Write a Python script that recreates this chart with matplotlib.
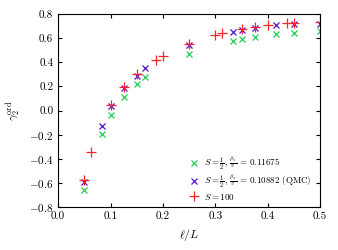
import matplotlib
matplotlib.use("Agg")
import matplotlib.pyplot as plt

plt.rcParams['font.family'] = 'serif'
plt.rcParams['font.serif'] = ['cmr10']
plt.rcParams['mathtext.fontset'] = 'cm'
plt.rcParams['axes.formatter.use_mathtext'] = True

# S = 1/2, rho_s/v = 0.11675
x_half = [0.05, 1/12, 0.1, 0.125, 0.15, 1/6, 0.25, 1/3, 0.35, 0.375, 5/12, 0.45, 0.5]
y_half = [-0.66, -0.195, -0.035, 0.11, 0.22, 0.28, 0.47, 0.58, 0.595, 0.61, 0.635, 0.645, 0.655]

# S = 1/2, QMC
x_qmc = [0.05, 1/12, 0.1, 0.125, 0.15, 1/6, 0.25, 1/3, 0.35, 0.375, 5/12, 0.45, 0.5]
y_qmc = [-0.59, -0.125, 0.035, 0.185, 0.29, 0.35, 0.545, 0.65, 0.665, 0.685, 0.705, 0.715, 0.72]

# S = 100
x_100 = [0.05, 0.0625, 0.1, 0.125, 0.15, 0.1875, 0.2, 0.25, 0.3, 0.3125, 0.35, 0.375, 0.4, 0.4375, 0.45, 0.5]
y_100 = [-0.575, -0.345, 0.045, 0.195, 0.30, 0.42, 0.455, 0.555, 0.625, 0.64, 0.675, 0.695, 0.71, 0.725, 0.725, 0.73]

fig, ax = plt.subplots(figsize=(3.38, 2.5), dpi=100)
fig.subplots_adjust(left=0.172, right=0.947, top=0.944, bottom=0.172)

ax.plot(x_half, y_half, 'x', color='#22cc55', ms=5, mew=0.9,
        label=r'$S=\frac{1}{2},\,\frac{\rho_s}{v}\,=\,0.11675$')
ax.plot(x_qmc, y_qmc, 'x', color='#5511cc', ms=5, mew=0.9,
        label=r'$S=\frac{1}{2},\,\frac{\rho_s}{v}\,=\,0.10882$ (QMC)')
ax.plot(x_100, y_100, '+', color='#ff2222', ms=7, mew=0.9,
        label=r'$S=100$')

ax.set_xlim(0, 0.5)
ax.set_ylim(-0.8, 0.8)
ax.set_xticks([0.0, 0.1, 0.2, 0.3, 0.4, 0.5])
ax.set_yticks([-0.8, -0.6, -0.4, -0.2, 0.0, 0.2, 0.4, 0.6, 0.8])
ax.set_xticklabels(['0.0', '0.1', '0.2', '0.3', '0.4', '0.5'])
ax.set_yticklabels([r'$-0.8$', r'$-0.6$', r'$-0.4$', r'$-0.2$', '0.0', '0.2', '0.4', '0.6', '0.8'])
ax.tick_params(direction='in', top=True, right=True, labelsize=8, length=3)
ax.set_xlabel(r'$\ell/L$', fontsize=8.5)
ax.set_ylabel(r'$\gamma_2^{\rm ord}$', fontsize=8.5)

ax.legend(loc='lower right', frameon=False, fontsize=6.5, handletextpad=0.6,
          borderaxespad=0.2, labelspacing=0.2, handlelength=1.2,
          bbox_to_anchor=(0.99, 0.0))

fig.savefig('out.png', dpi=100)
